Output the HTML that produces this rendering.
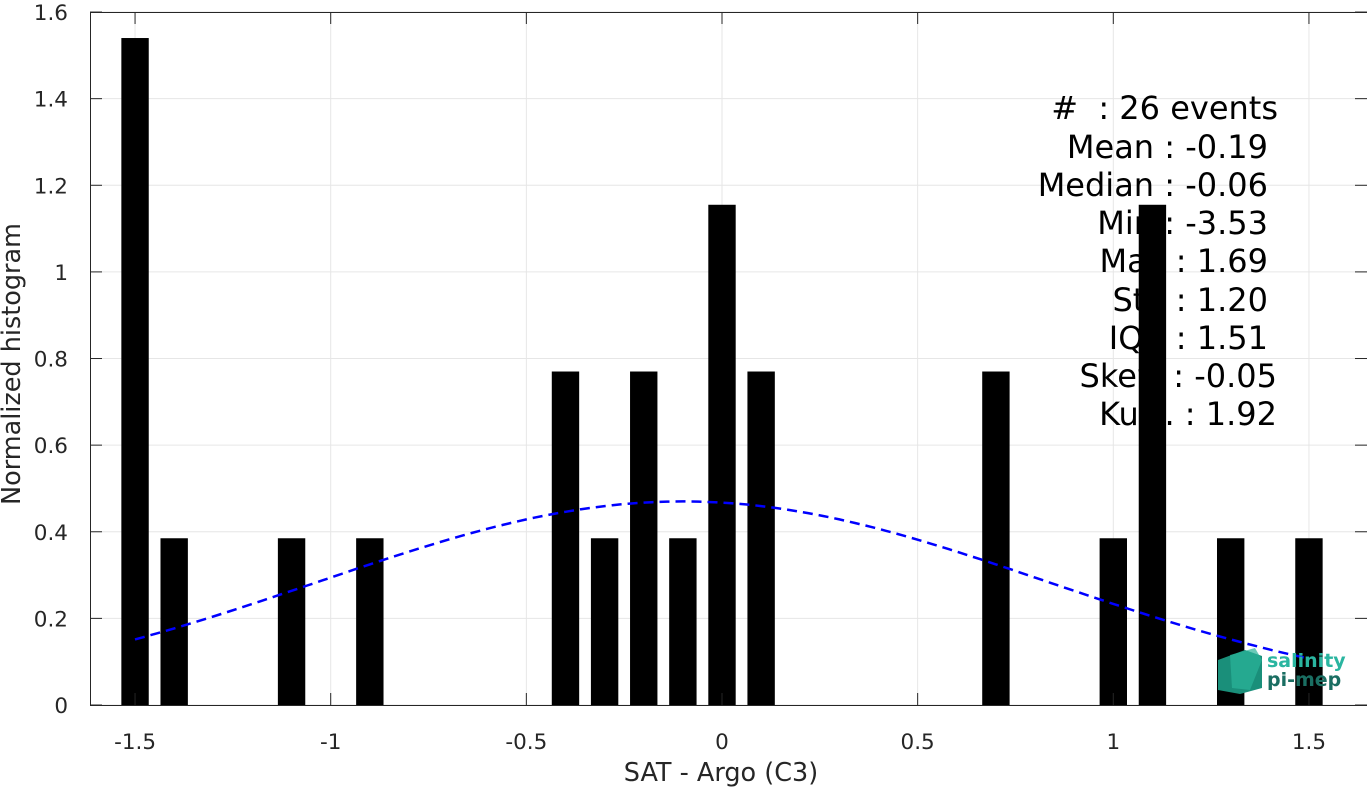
<!DOCTYPE html>
<html><head><meta charset="utf-8"><style>
body{margin:0;background:#fff;}
svg{display:block;font-family:"DejaVu Sans","Liberation Sans",sans-serif;}
</style></head><body>
<svg id="chart" width="1367" height="787">
<rect x="0" y="0" width="1367" height="787" fill="#fff"/>
<g id="grid"></g>
<g id="stats" font-size="32" fill="#000" text-anchor="end" style="white-space:pre">
<text x="1278" y="119" xml:space="preserve">#  : 26 events</text>
<text x="1268" y="158">Mean : -0.19</text>
<text x="1268" y="196">Median : -0.06</text>
<text x="1268" y="234">Min : -3.53</text>
<text x="1268" y="272">Max : 1.69</text>
<text x="1268" y="311">Std : 1.20</text>
<text x="1268" y="349">IQR : 1.51</text>
<text x="1277" y="387">Skew : -0.05</text>
<text x="1277" y="425">Kurt. : 1.92</text>
</g>
<g id="bars"></g>
<path id="fit" fill="none" stroke="#0000ff" stroke-width="2.5" stroke-dasharray="10,6"/>
<g id="axes"></g>
<g>
<polygon points="1218,660 1245,650 1262,656 1262,688 1240,694 1218,690" fill="#1a8f7a"/>
<polygon points="1230,655 1255,648 1262,660 1250,690 1232,688" fill="#2bb39a" opacity="0.7"/>
<text x="1267" y="667" font-size="19" font-weight="bold" fill="#2ab5a0">salinity</text>
<text x="1267" y="686" font-size="19" font-weight="bold" fill="#1a6e62">pi-mep</text>
</g>
<text x="721" y="781" font-size="25.5" text-anchor="middle" fill="#262626">SAT - Argo (C3)</text>
<text transform="translate(20,364) rotate(-90)" font-size="25.5" text-anchor="middle" fill="#262626">Normalized histogram</text>
</svg>
<script>
const binCenters=[-1.5,-1.4,-1.1,-0.9,-0.4,-0.3,-0.2,-0.1,0,0.1,0.7,1.0,1.1,1.3,1.5];
const binHeights=[1.54,0.385,0.385,0.385,0.77,0.385,0.77,0.385,1.155,0.77,0.77,0.385,1.155,0.385,0.385];
const xTicks=[-1.5,-1,-0.5,0,0.5,1,1.5];
const xTickLabels=["-1.5","-1","-0.5","0","0.5","1","1.5"];
const yTicks=[0,0.2,0.4,0.6,0.8,1,1.2,1.4,1.6];
const yTickLabels=["0","0.2","0.4","0.6","0.8","1","1.2","1.4","1.6"];
const fitMu=-0.1, fitSigma=0.93, fitAmp=0.47;
const fitRange=[-1.5,1.5];
const binWidth=0.07;

const L=90,R=1367,T=12,B=705;
const xs=v=>722+v*391.3;
const ys=v=>B-v*433.1;
const NS="http://www.w3.org/2000/svg";
function mk(tag,attrs,parent){const e=document.createElementNS(NS,tag);for(const k in attrs)e.setAttribute(k,attrs[k]);parent.appendChild(e);return e;}
const grid=document.getElementById('grid'),axes=document.getElementById('axes'),bars=document.getElementById('bars');
xTicks.forEach((t,i)=>{
 const g=mk('line',{x1:xs(t),x2:xs(t),y1:T,y2:B,stroke:'#e6e6e6','stroke-width':1},grid);
 
 
 mk('line',{x1:xs(t),x2:xs(t),y1:B,y2:B-12,stroke:'#262626'},axes);
 mk('line',{x1:xs(t),x2:xs(t),y1:T,y2:T+12,stroke:'#262626'},axes);
 const tx=mk('text',{x:xs(t),y:B+44,'font-size':21.5,'text-anchor':'middle',fill:'#262626'},axes);
 tx.textContent=xTickLabels[i];
 
 
});
yTicks.forEach((t,i)=>{
 const g=mk('line',{x1:L,x2:R,y1:ys(t),y2:ys(t),stroke:'#e6e6e6','stroke-width':1},grid);
 
 
 mk('line',{x1:L,x2:L+12,y1:ys(t),y2:ys(t),stroke:'#262626'},axes);
 mk('line',{x1:R-12,x2:R,y1:ys(t),y2:ys(t),stroke:'#262626'},axes);
 const tx=mk('text',{x:L-22,y:ys(t)+8,'font-size':21.5,'text-anchor':'end',fill:'#262626'},axes);
 tx.textContent=yTickLabels[i];
 
 
});
mk('rect',{x:L+0.5,y:T+0.5,width:R-L,height:B-T,fill:'none',stroke:'#262626','stroke-width':1},axes);
binCenters.forEach((c,i)=>{
 const w=binWidth*391.3;
 const r=mk('rect',{x:xs(c)-w/2,y:ys(binHeights[i]),width:w,height:B-ys(binHeights[i]),fill:'#000'},bars);
 
 
});
let d='';
for(let k=0;k<=150;k++){
 const x=fitRange[0]+(fitRange[1]-fitRange[0])*k/150;
 const y=fitAmp*Math.exp(-((x-fitMu)**2)/(2*fitSigma*fitSigma));
 d+=(k?'L':'M')+xs(x).toFixed(1)+','+ys(y).toFixed(1);
}
document.getElementById('fit').setAttribute('d',d);
</script>
</body></html>
